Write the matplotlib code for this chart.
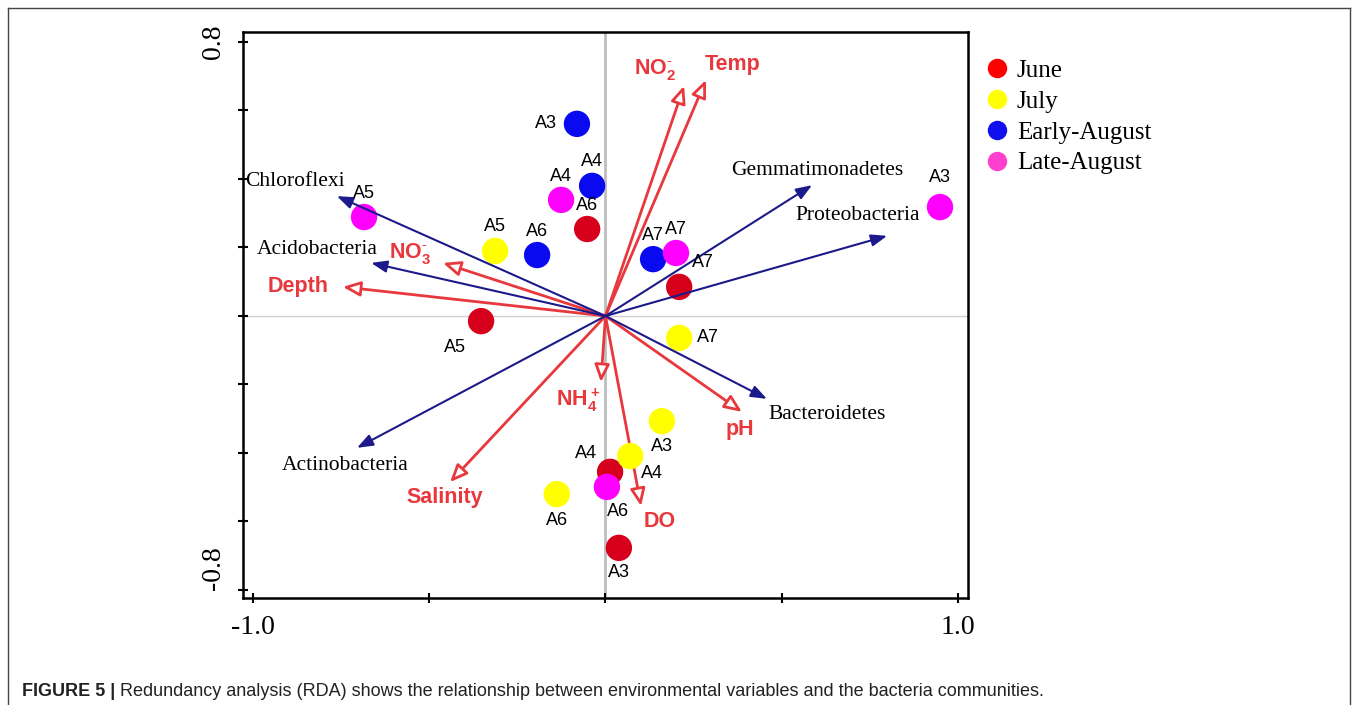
import matplotlib
matplotlib.use('Agg')
import matplotlib.pyplot as plt
from matplotlib.lines import Line2D

plt.rcParams['mathtext.fontset'] = 'custom'
plt.rcParams['mathtext.rm'] = 'Liberation Sans'
plt.rcParams['mathtext.bf'] = 'Liberation Sans:bold'

# sample scores per sampling time
groups = ['June', 'July', 'Early-August', 'Late-August']
june_sites = ['A6', 'A7', 'A5', 'A4', 'A3']
june_x = [-0.052, 0.209, -0.353, 0.013, 0.038]
june_y = [0.254, 0.085, -0.015, -0.455, -0.677]
july_sites = ['A5', 'A7', 'A3', 'A4', 'A6']
july_x = [-0.313, 0.209, 0.160, 0.070, -0.138]
july_y = [0.190, -0.064, -0.307, -0.409, -0.520]
early_sites = ['A3', 'A4', 'A6', 'A7']
early_x = [-0.081, -0.038, -0.194, 0.135]
early_y = [0.561, 0.380, 0.178, 0.166]
late_sites = ['A5', 'A4', 'A7', 'A3', 'A6']
late_x = [-0.685, -0.126, 0.200, 0.949, 0.004]
late_y = [0.289, 0.339, 0.184, 0.318, -0.499]

# bacteria (species) arrows
species = ['Chloroflexi', 'Acidobacteria', 'Actinobacteria', 'Bacteroidetes',
           'Proteobacteria', 'Gemmatimonadetes']
species_x = [-0.762, -0.665, -0.705, 0.458, 0.799, 0.586]
species_y = [0.350, 0.155, -0.385, -0.242, 0.234, 0.382]

# environmental arrows
env = [r'$\mathbf{NO_2^{\text{-}}}$', 'Temp', r'$\mathbf{NO_3^{\text{-}}}$', 'Depth',
       r'$\mathbf{NH_4^+}$', 'Salinity', 'DO', 'pH']
env_x = [0.223, 0.285, -0.461, -0.745, -0.013, -0.441, 0.101, 0.387]
env_y = [0.672, 0.689, 0.155, 0.085, -0.193, -0.485, -0.555, -0.280]

# layout: label offsets in pixels
june_off = [(0, 24), (24, 24), (-26, -26), (-24, 18), (0, -25)]
july_off = [(0, 24), (29, 0), (0, -25), (22, -17), (0, -26)]
early_off = [(-31, 0), (0, 24), (0, 24), (0, 24)]
late_off = [(0, 24), (0, 23), (0, 23), (0, 30), (11, -25)]
species_off = [(-42, 15), (-54, 13), (-12, -18), (60, -16), (-29, 20), (5, 15)]
env_off = [(-29, 16), (27, 16), (-33, 9), (-45, 0), (-23, -18), (-5, -15),
           (19, -15), (-2, -18)]

point_colors = ['#d6001c', '#ffff00', '#0a0af0', '#ff00ff']
legend_colors = ['#ff0000', '#ffff00', '#1010ee', '#ff3fcf']
navy = '#1c1a8a'
red = '#e8383d'
serif = 'Liberation Serif'
sans = 'Liberation Sans'

fig = plt.figure(figsize=(13.58, 7.05), dpi=100)
ax = fig.add_axes([0.17894, 0.15177, 0.53387, 0.80284])
ax.set_xlim(-1.0284, 1.0284)
ax.set_ylim(-0.8234, 0.8292)

ax.axvline(0, color='#bdbdbd', lw=2, zorder=0)
ax.axhline(0, color='#cfcfcf', lw=1, zorder=0)

# environmental arrows (open heads)
for lab, x, y, off in zip(env, env_x, env_y, env_off):
    ax.annotate('', xy=(x, y), xytext=(0, 0),
                arrowprops=dict(arrowstyle='-|>,head_length=0.75,head_width=0.32',
                                mutation_scale=14, edgecolor=red, facecolor='white',
                                lw=2, shrinkA=0, shrinkB=0), zorder=2)
    ax.annotate(lab, xy=(x, y), xytext=off, textcoords='offset pixels',
                ha='center', va='center', color=red, fontsize=15.5,
                fontweight='bold', family=sans, zorder=5)

# sample points
all_sets = [(june_sites, june_x, june_y, june_off),
            (july_sites, july_x, july_y, july_off),
            (early_sites, early_x, early_y, early_off),
            (late_sites, late_x, late_y, late_off)]
for (sites, xs, ys, offs), c in zip(all_sets, point_colors):
    ax.scatter(xs, ys, s=360, color=c, edgecolor='none', zorder=3)
    for s, x, y, off in zip(sites, xs, ys, offs):
        ax.annotate(s, xy=(x, y), xytext=off, textcoords='offset pixels',
                    ha='center', va='center', fontsize=13, family=sans, zorder=5)

# species arrows (filled heads)
for lab, x, y, off in zip(species, species_x, species_y, species_off):
    ax.annotate('', xy=(x, y), xytext=(0, 0),
                arrowprops=dict(arrowstyle='-|>,head_length=0.8,head_width=0.3',
                                mutation_scale=12, color=navy, lw=1.5,
                                shrinkA=0, shrinkB=0), zorder=4)
    ax.annotate(lab, xy=(x, y), xytext=off, textcoords='offset pixels',
                ha='center', va='center', fontsize=15.5, family=serif, zorder=5)

# axes styling
for sp in ax.spines.values():
    sp.set_linewidth(1.8)
ax.set_xticks([-1.0, -0.5, 0, 0.5, 1.0])
ax.set_xticklabels(['-1.0', '', '', '', '1.0'])
yt = [-0.8, -0.6, -0.4, -0.2, 0, 0.2, 0.4, 0.6, 0.8]
ax.set_yticks(yt)
ax.set_yticklabels(['-0.8'] + [''] * 7 + ['0.8'], rotation=90)
ax.tick_params(direction='inout', length=7, width=1.5, pad=9)
for t in ax.get_xticklabels() + ax.get_yticklabels():
    t.set_fontfamily(serif)
    t.set_fontsize(20)
ylabs = ax.get_yticklabels()
ylabs[0].set_va('bottom')
ylabs[-1].set_va('center')

# legend
handles = [Line2D([], [], ls='none', marker='o', markersize=14,
                  markerfacecolor=c, markeredgecolor='none') for c in legend_colors]
fig.legend(handles, groups, loc='upper left', bbox_to_anchor=(0.7268, 0.9155),
           frameon=False, prop={'family': serif, 'size': 18}, handlelength=0.8,
           handletextpad=0.4, labelspacing=0.33, borderpad=0, borderaxespad=0)

# outer frame
for xs_, ys_ in [([0.0059, 0.0059], [0.0, 0.9887]),
                 ([0.0059, 0.9941], [0.9887, 0.9887]),
                 ([0.9941, 0.9941], [0.0, 0.9887])]:
    fig.add_artist(Line2D(xs_, ys_, transform=fig.transFigure, color='#444444', lw=1))

# caption
t1 = fig.text(0.0162, 0.019, 'FIGURE 5 |', fontsize=13, fontweight='bold',
              family=sans, va='center', color='#222222')
fig.canvas.draw()
bb = t1.get_window_extent(fig.canvas.get_renderer())
fig.text((bb.x1 + 5) / fig.bbox.width, 0.019,
         'Redundancy analysis (RDA) shows the relationship between environmental '
         'variables and the bacteria communities.', fontsize=13, family=sans,
         va='center', color='#222222')

fig.savefig('out.png', dpi=100)
